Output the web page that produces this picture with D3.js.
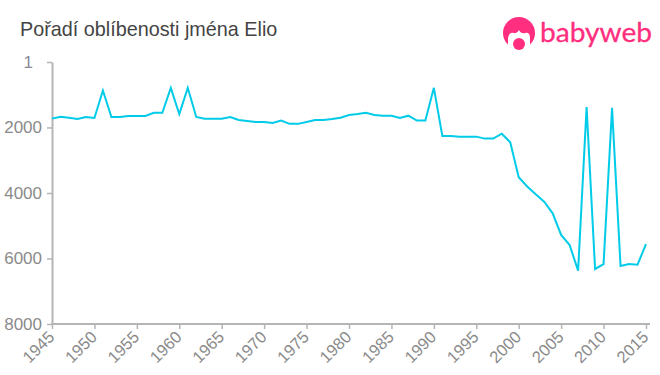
<!DOCTYPE html>
<html><head><meta charset="utf-8">
<script src="https://cdn.jsdelivr.net/npm/d3@7"></script>
<style>html,body{margin:0;padding:0;background:#fff}svg{display:block}</style>
</head><body><svg id="c" width="660" height="375"></svg>
<script>
const titleText = "Pořadí oblíbenosti jména Elio";
const logoText = "babyweb";
const years = d3.range(1945, 2016);
const ranks = [1730,1670,1700,1740,1680,1710,870,1680,1680,1650,1650,1650,1550,1550,790,1590,790,1680,1730,1730,
1730,1680,1770,1800,1830,1830,1860,1790,1890,1890,1830,1770,1770,1740,1700,1620,1590,1550,1620,1640,1640,1710,1640,1790,1790,790,
2260,2260,2280,2280,2280,2340,2340,2190,2450,3520,3800,4040,4265,4620,5280,5590,6370,1380,6320,6170,1400,6230,6170,6190,5560];
const yTicks = [1,2000,4000,6000,8000];
const xTicks = d3.range(1945, 2016, 5);

const svg = d3.select("#c");
const x = d3.scaleLinear().domain([1945,2015]).range([52,646]);
const y = d3.scaleLinear().domain([1,8000]).range([62,324]);
const font = "'Liberation Sans', Arial, sans-serif";

svg.append("text").attr("x",20).attr("y",36).attr("font-family",font).attr("font-size",19.8)
  .attr("fill","#444").text(titleText);

const axisColor = "#b5b5b5", labelColor = "#8a8a8a";
const gy = svg.append("g").attr("transform","translate(52,0)")
  .call(d3.axisLeft(y).tickValues(yTicks).tickFormat(d3.format("d")).tickSize(5).tickSizeOuter(0).tickPadding(5));
gy.select(".domain").attr("stroke",axisColor).attr("stroke-width",2);
gy.selectAll(".tick line").attr("stroke",axisColor).attr("stroke-width",1.5);
gy.selectAll("text").attr("font-family",font).attr("font-size",17).attr("fill",labelColor);
gy.selectAll("text").filter(d=>d===1).attr("dx",-9).attr("fill","#8a8a9a");

const gx = svg.append("g").attr("transform","translate(0,324)")
  .call(d3.axisBottom(x).tickValues(xTicks).tickFormat(d3.format("d")).tickSize(5).tickSizeOuter(0));
gx.select(".domain").attr("stroke",axisColor).attr("stroke-width",2).attr("d","M51,0H650");
gx.selectAll(".tick line").attr("stroke",axisColor).attr("stroke-width",1.5);
gx.selectAll("text").attr("font-family",font).attr("font-size",16.5).attr("fill",labelColor)
  .attr("text-anchor","end").attr("dx",null).attr("dy",null).attr("y",null)
  .attr("transform","translate(3,14) rotate(-45)");

svg.append("path").datum(ranks)
  .attr("fill","none").attr("stroke","#00cbe8").attr("stroke-width",2).attr("stroke-linejoin","miter")
  .attr("d",d3.line().x((d,i)=>x(years[i])).y(d=>y(d)));

// logo
const pink = "#ff2e7e";
const logo = svg.append("g");
logo.append("circle").attr("cx",519).attr("cy",33).attr("r",16).attr("fill",pink);
logo.append("path").attr("d","M508,50 L508,38 Q509,32 514,33 Q517,34 519,30 Q521,34 525,33 Q530,32 530,38 L530,50 Z").attr("fill","#fff");
logo.append("circle").attr("cx",519).attr("cy",44).attr("r",6).attr("fill",pink);
logo.append("text").attr("x",540).attr("y",42).attr("font-family","Lato, sans-serif").attr("font-size",27)
  .attr("fill",pink).attr("stroke",pink).attr("stroke-width",0.3).attr("textLength",112).attr("lengthAdjust","spacingAndGlyphs").text(logoText);
</script></body></html>
